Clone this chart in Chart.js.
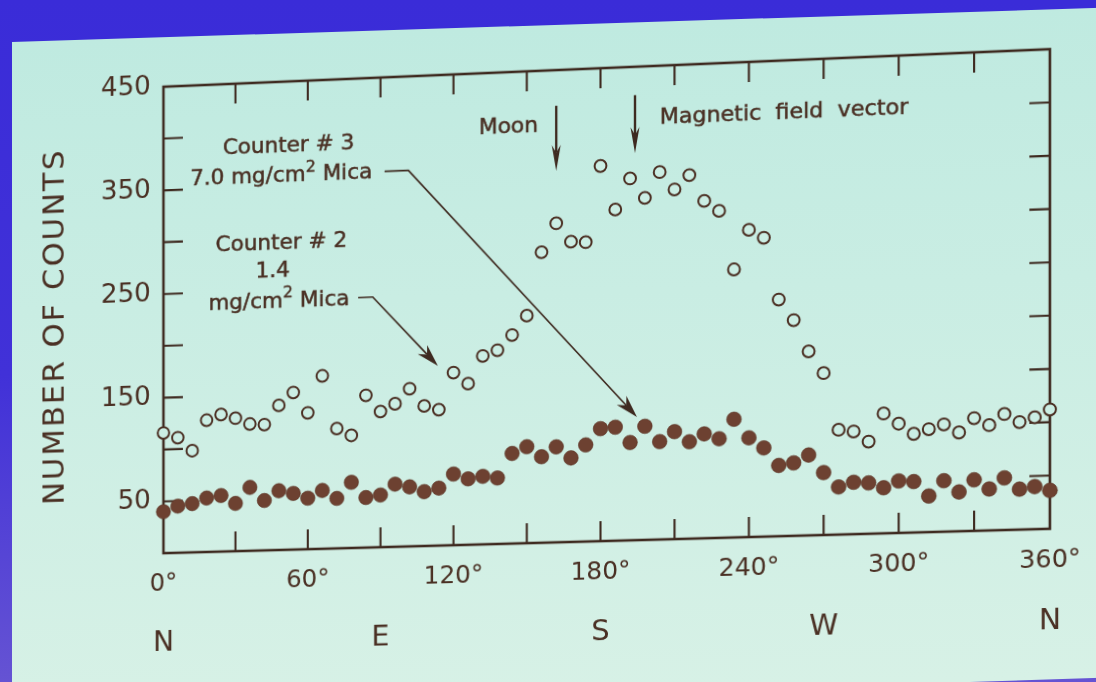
<!DOCTYPE html>
<html>
<head>
<meta charset="utf-8">
<script src="https://cdn.jsdelivr.net/npm/chart.js@4.4.1/dist/chart.umd.min.js"></script>
<style>
  html, body {
    margin: 0; padding: 0; width: 1096px; height: 682px; overflow: hidden;
    background: linear-gradient(180deg, #3a2cd8 0%, #4131d8 55%, #6553d3 100%);
  }
  #slide {
    position: absolute; left: 12px; top: 42px; width: 1120px; height: 670px;
    transform-origin: 0 0; transform: skewY(-1.8deg);
    background: linear-gradient(180deg, #bfeae0 0%, #c9ede3 40%, #d7f1e6 100%);
  }
  /* the reference is a photo of a projected slide, slightly keystoned */
  #wrap {
    position: absolute; left: 0; top: 0; width: 1096px; height: 682px;
    transform-origin: 606px 305px;
    transform: perspective(1000px) rotateY(-1.8deg) skewY(-2deg);
  }
</style>
</head>
<body>
<div id="slide"></div>
<div id="wrap"><canvas id="chart" width="1096" height="682"></canvas></div>
<script>
// azimuth of each 6 degree bin
const angles = [0, 6, 12, 18, 24, 30, 36, 42, 48, 54, 60, 66, 72, 78, 84, 90, 96, 102, 108, 114,
  120, 126, 132, 138, 144, 150, 156, 162, 168, 174, 180, 186, 192, 198, 204, 210, 216, 222, 228, 234,
  240, 246, 252, 258, 264, 270, 276, 282, 288, 294, 300, 306, 312, 318, 324, 330, 336, 342, 348, 354, 360];

// Counter #2, 1.4 mg/cm2 mica (open circles)
const counter2 = [116, 111, 98, 127, 132, 128, 122, 121, 139, 151, 131, 166, 115, 108, 146, 130, 137, 151, 134, 130,
  165, 154, 180, 185, 199, 217, 277, 304, 286, 285, 357, 315, 344, 325, 349, 332, 345, 320, 310, 254,
  291, 283, 224, 204, 174, 153, 99, 97, 87, 113, 103, 93, 97, 101, 93, 106, 99, 109, 101, 105, 112];

// Counter #3, 7.0 mg/cm2 mica (filled dots)
const counter3 = [40, 45, 47, 52, 54, 46, 61, 48, 57, 54, 49, 56, 48, 63, 48, 50, 60, 57, 52, 55,
  68, 63, 65, 63, 86, 92, 82, 91, 80, 92, 107, 108, 93, 108, 93, 102, 92, 99, 94, 112,
  94, 84, 67, 69, 76, 59, 45, 49, 48, 43, 49, 48, 34, 48, 37, 48, 39, 49, 38, 40, 36];

const compassLabels = ['N', 'E', 'S', 'W', 'N'];
const compassAngles = [0, 90, 180, 270, 360];
const yTitle = 'NUMBER OF COUNTS';

const FONT = 'DejaVu Sans';
const INK = '#3e2a20';
const TEXT = '#4a3024';

// callouts, placed in data units (degrees, counts)
const notes = [
  { parts: [{ t: 'Counter # 3' }], at: [52, 388] },
  { parts: [{ t: '7.0 mg/cm' }, { t: '2', sup: true }, { t: ' Mica' }], at: [48.9, 359] },
  { parts: [{ t: 'Counter # 2' }], at: [49, 295] },
  { parts: [{ t: '1.4' }], at: [45.5, 268] },
  { parts: [{ t: 'mg/cm' }, { t: '2', sup: true }, { t: ' Mica' }], at: [48, 239] },
  { parts: [{ t: 'Moon' }], at: [142.5, 397.5] },
  { parts: [{ t: 'Magnetic  field  vector' }], at: [254, 400] }
];
const arrows = [
  { pts: [[91.7, 360], [101.5, 360], [194.8, 117]], bold: false },
  { pts: [[80.8, 240], [86.8, 240], [113.6, 172]], bold: false },
  { pts: [[162, 416], [162, 354]], bold: true },
  { pts: [[194, 423], [194, 368]], bold: true }
];

function drawParts(ctx, parts, x, y, size) {
  const big = size + 'px "' + FONT + '"';
  const small = Math.round(size * 0.72) + 'px "' + FONT + '"';
  let w = 0;
  parts.forEach(p => { ctx.font = p.sup ? small : big; w += ctx.measureText(p.t).width; });
  let cx = x - w / 2;
  parts.forEach(p => {
    ctx.font = p.sup ? small : big;
    const py = p.sup ? y - size * 0.36 : y;
    ctx.fillText(p.t, cx, py);
    ctx.strokeText(p.t, cx, py);
    cx += ctx.measureText(p.t).width;
  });
}

const framePlugin = {
  id: 'frame',
  beforeDatasetsDraw(chart) {
    const { ctx, chartArea: a, scales: { x, y } } = chart;
    ctx.save();
    ctx.strokeStyle = INK;
    ctx.lineWidth = 2.6;
    ctx.strokeRect(a.left, a.top, a.right - a.left, a.bottom - a.top);
    ctx.lineWidth = 2.1;
    ctx.beginPath();
    for (let v = 30; v < 360; v += 30) {
      const px = x.getPixelForValue(v);
      ctx.moveTo(px, a.top); ctx.lineTo(px, a.top + 20);
      ctx.moveTo(px, a.bottom); ctx.lineTo(px, a.bottom - 20);
    }
    for (let v = 50; v < 450; v += 50) {
      const py = y.getPixelForValue(v);
      ctx.moveTo(a.left, py); ctx.lineTo(a.left + 20, py);
      ctx.moveTo(a.right, py); ctx.lineTo(a.right - 20, py);
    }
    ctx.stroke();

    // axis title, spaced out like the hand lettering
    ctx.save();
    ctx.translate(a.left - 111, (a.top + a.bottom) / 2 + 3);
    ctx.rotate(-Math.PI / 2);
    ctx.fillStyle = TEXT;
    ctx.font = '31px "' + FONT + '"';
    ctx.letterSpacing = '2.2px';
    ctx.textAlign = 'center';
    ctx.textBaseline = 'middle';
    ctx.fillText(yTitle, 0, 0);
    ctx.restore();
    ctx.restore();
  },
  afterDatasetsDraw(chart) {
    const { ctx, chartArea: a, scales: { x, y } } = chart;
    ctx.save();
    ctx.fillStyle = TEXT;
    ctx.strokeStyle = TEXT;
    ctx.lineWidth = 0.5;
    ctx.textBaseline = 'middle';
    ctx.textAlign = 'left';
    notes.forEach(n => drawParts(ctx, n.parts, x.getPixelForValue(n.at[0]), y.getPixelForValue(n.at[1]), 22));

    arrows.forEach(ar => {
      const p = ar.pts.map(q => [x.getPixelForValue(q[0]), y.getPixelForValue(q[1])]);
      const tip = p[p.length - 1], prev = p[p.length - 2];
      const dx = tip[0] - prev[0], dy = tip[1] - prev[1];
      const len = Math.hypot(dx, dy), ux = dx / len, uy = dy / len;
      const hl = ar.bold ? 26 : 23, hw = ar.bold ? 4.5 : 6.5;
      const notch = [tip[0] - ux * hl * 0.7, tip[1] - uy * hl * 0.7];
      ctx.strokeStyle = INK;
      ctx.fillStyle = INK;
      ctx.lineWidth = ar.bold ? 2.4 : 1.6;
      ctx.beginPath();
      ctx.moveTo(p[0][0], p[0][1]);
      for (let i = 1; i < p.length - 1; i++) ctx.lineTo(p[i][0], p[i][1]);
      ctx.lineTo(notch[0], notch[1]);
      ctx.stroke();
      const bx = tip[0] - ux * hl, by = tip[1] - uy * hl;
      ctx.beginPath();
      ctx.moveTo(tip[0], tip[1]);
      ctx.lineTo(bx - uy * hw, by + ux * hw);
      ctx.lineTo(notch[0], notch[1]);
      ctx.lineTo(bx + uy * hw, by - ux * hw);
      ctx.closePath();
      ctx.fill();
    });

    // compass points under the degree labels
    ctx.fillStyle = TEXT;
    ctx.textAlign = 'center';
    ctx.font = '29px "' + FONT + '"';
    compassLabels.forEach((c, i) => ctx.fillText(c, x.getPixelForValue(compassAngles[i]), a.bottom + 91));
    ctx.restore();
  }
};

new Chart(document.getElementById('chart').getContext('2d'), {
  type: 'scatter',
  data: {
    datasets: [
      {
        label: 'Counter #2  1.4 mg/cm2 Mica',
        data: angles.map((a, i) => ({ x: a, y: counter2[i] })),
        pointRadius: 5.9,
        pointBorderWidth: 2,
        borderColor: '#4a2e22',
        backgroundColor: 'rgba(203,238,228,1)',
        clip: false
      },
      {
        label: 'Counter #3  7.0 mg/cm2 Mica',
        data: angles.map((a, i) => ({ x: a, y: counter3[i] })),
        pointRadius: 7.3,
        pointBorderWidth: 0.6,
        borderColor: '#5a3324',
        backgroundColor: '#6d4131',
        clip: false
      }
    ]
  },
  options: {
    responsive: false,
    animation: false,
    devicePixelRatio: 1,
    layout: { padding: { top: 68, right: 52, left: 0, bottom: 0 } },
    plugins: { legend: { display: false }, tooltip: { enabled: false } },
    scales: {
      x: {
        type: 'linear', min: 0, max: 360,
        afterFit: s => { s.height = 141; },
        grid: { display: false, drawTicks: false },
        border: { display: false },
        ticks: {
          stepSize: 60, padding: 16, maxRotation: 0, autoSkip: false,
          color: TEXT, font: { family: FONT, size: 25 },
          callback: v => v + '°'
        }
      },
      y: {
        min: 0, max: 450,
        afterFit: s => { s.width = 157; },
        grid: { display: false, drawTicks: false },
        border: { display: false },
        ticks: {
          stepSize: 50, padding: 13,
          color: TEXT, font: { family: FONT, size: 27 },
          callback: v => (v % 100 === 50 ? v : '')
        }
      }
    }
  },
  plugins: [framePlugin]
});
</script>
</body>
</html>
